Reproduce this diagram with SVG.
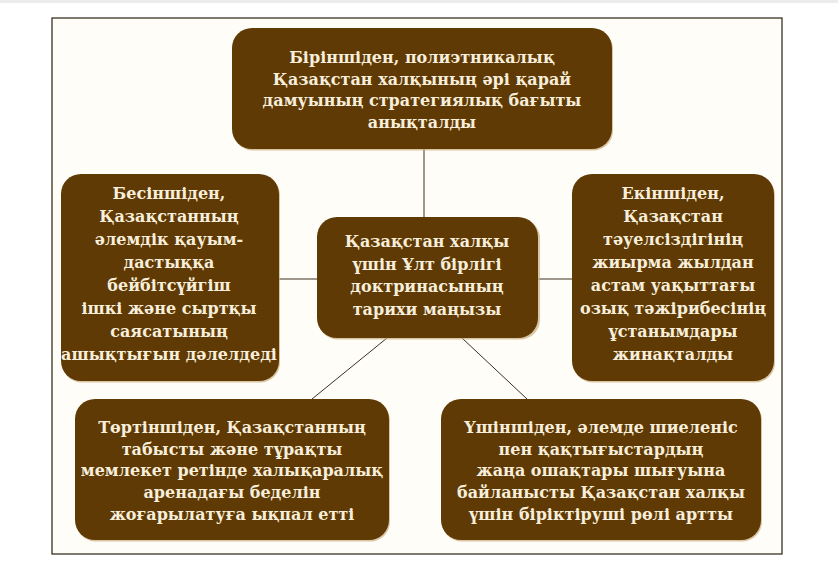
<svg xmlns="http://www.w3.org/2000/svg" width="838" height="574" viewBox="0 0 838 574">
<style>
.box{fill:#5f3a04}
.sh{fill:#c9ad7f;opacity:0.7}
.t{font-family:"DejaVu Serif","Liberation Serif",serif;font-weight:bold;font-size:16px;fill:#f7eedb;text-anchor:middle}
.c{stroke:#3a3020;stroke-width:1;fill:none}
</style>
<rect x="0" y="0" width="838" height="574" fill="#ffffff"/>
<rect x="0" y="0" width="838" height="3" fill="#ececec"/>
<rect x="52" y="18" width="730" height="536" fill="#fffdf7" stroke="#3b3322" stroke-width="1.3"/>
<g id="connectors">
<line class="c" x1="424" y1="149" x2="424" y2="217"/>
<line class="c" x1="279" y1="279" x2="317" y2="279"/>
<line class="c" x1="538" y1="279" x2="572" y2="279"/>
<line class="c" x1="387" y1="338" x2="312" y2="399"/>
<line class="c" x1="462" y1="338" x2="527" y2="399"/>
</g>
<g id="top">
<rect class="sh" x="233" y="29.5" width="380" height="121" rx="20"/>
<rect class="box" x="232" y="28" width="380" height="121" rx="20"/>
<text class="t" x="422" y="63">Біріншіден, полиэтникалық</text>
<text class="t" x="422" y="84.5">Қазақстан халқының әрі қарай</text>
<text class="t" x="422" y="106">дамуының стратегиялық бағыты</text>
<text class="t" x="422" y="128">анықталды</text>
</g>
<g id="center">
<rect class="sh" x="318" y="218.5" width="222" height="121" rx="20"/>
<rect class="box" x="317" y="217" width="221" height="121" rx="20"/>
<text class="t" x="427" y="247">Қазақстан халқы</text>
<text class="t" x="427" y="269.5">үшін Ұлт бірлігі</text>
<text class="t" x="427" y="292">доктринасының</text>
<text class="t" x="427" y="314.5">тарихи маңызы</text>
</g>
<g id="left">
<rect class="sh" x="62" y="175.5" width="218" height="207" rx="20"/>
<rect class="box" x="61" y="174" width="218" height="207" rx="20"/>
<text class="t" x="169" y="199">Бесіншіден,</text>
<text class="t" x="169" y="222">Қазақстанның</text>
<text class="t" x="169" y="245">әлемдік қауым-</text>
<text class="t" x="169" y="268">дастыққа</text>
<text class="t" x="169" y="291">бейбітсүйгіш</text>
<text class="t" x="169" y="314">ішкі және сыртқы</text>
<text class="t" x="169" y="337">саясатының</text>
<text class="t" x="169" y="360">ашықтығын дәлелдеді</text>
</g>
<g id="right">
<rect class="sh" x="573" y="175.5" width="202" height="207" rx="20"/>
<rect class="box" x="572" y="174" width="202" height="207" rx="20"/>
<text class="t" x="673" y="199">Екіншіден,</text>
<text class="t" x="673" y="222">Қазақстан</text>
<text class="t" x="673" y="245">тәуелсіздігінің</text>
<text class="t" x="673" y="268">жиырма жылдан</text>
<text class="t" x="673" y="291">астам уақыттағы</text>
<text class="t" x="673" y="314">озық тәжірибесінің</text>
<text class="t" x="673" y="337">ұстанымдары</text>
<text class="t" x="673" y="360">жинақталды</text>
</g>
<g id="bottom-left">
<rect class="sh" x="76" y="400.5" width="314" height="141" rx="20"/>
<rect class="box" x="75" y="399" width="314" height="141" rx="20"/>
<text class="t" x="232" y="433">Төртіншіден, Қазақстанның</text>
<text class="t" x="232" y="454.5">табысты және тұрақты</text>
<text class="t" x="232" y="476">мемлекет ретінде халықаралық</text>
<text class="t" x="232" y="498">аренадағы беделін</text>
<text class="t" x="232" y="519.5">жоғарылатуға ықпал етті</text>
</g>
<g id="bottom-right">
<rect class="sh" x="442" y="400.5" width="320" height="141" rx="20"/>
<rect class="box" x="441" y="399" width="320" height="141" rx="20"/>
<text class="t" x="601" y="433">Үшіншіден, әлемде шиеленіс</text>
<text class="t" x="601" y="454.5">пен қақтығыстардың</text>
<text class="t" x="601" y="476">жаңа ошақтары шығуына</text>
<text class="t" x="601" y="498">байланысты Қазақстан халқы</text>
<text class="t" x="601" y="519.5">үшін біріктіруші рөлі артты</text>
</g>
</svg>
